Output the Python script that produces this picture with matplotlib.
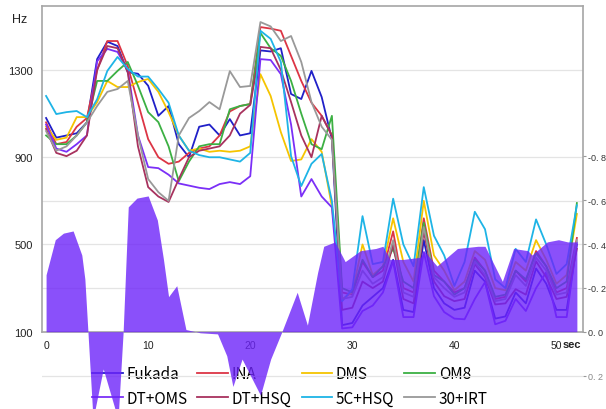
import matplotlib
matplotlib.use('Agg')
import matplotlib.pyplot as plt

# Datos
seconds = list(range(53))
series_names = ['Fukada', 'INA', 'DMS', 'OM8', 'DT+OMS', 'DT+HSQ', '5C+HSQ', '30+IRT']
series_colors = ['#2020c8', '#dc3545', '#f5c400', '#3cb043', '#7b2ff7', '#a8325e', '#1eb4e6', '#999999']

fukada = [1080, 990, 1000, 1010, 1060, 1350, 1430, 1410, 1290, 1283,
          1228, 1090, 1135, 960, 900, 1040, 1050, 1000, 1075, 1000,
          1010, 1390, 1385, 1400, 1190, 1167, 1296, 1176, 983, 130,
          140, 220, 260, 300, 430, 200, 190, 520, 300, 230,
          200, 210, 380, 330, 160, 170, 280, 230, 390, 320,
          200, 200, 500]
ina = [1060, 960, 970, 1040, 1080, 1300, 1433, 1433, 1318, 1150,
       983, 900, 870, 880, 920, 940, 950, 1000, 1110, 1135,
       1144, 1497, 1490, 1480, 1365, 1250, 1150, 1090, 1000, 280,
       270, 420, 350, 380, 560, 300, 280, 620, 380, 330,
       280, 300, 440, 380, 250, 260, 380, 330, 470, 400,
       280, 300, 530]
dms = [1040, 980, 990, 1084, 1084, 1153, 1250, 1222, 1222, 1245,
       1259, 1200, 1107, 1000, 930, 940, 925, 930, 925, 930,
       950, 1281, 1181, 1015, 883, 890, 983, 925, 675, 250,
       280, 500, 360, 400, 620, 420, 330, 700, 450, 380,
       290, 330, 470, 430, 300, 290, 420, 380, 520, 430,
       320, 360, 640]
om8 = [1000, 960, 960, 1000, 1060, 1250, 1250, 1296, 1337, 1228,
       1107, 1061, 950, 790, 880, 950, 960, 960, 1120, 1135,
       1144, 1470, 1400, 1365, 1250, 1100, 960, 937, 1090, 300,
       280, 430, 350, 400, 480, 330, 300, 600, 360, 330,
       270, 300, 430, 380, 260, 270, 380, 340, 460, 400,
       300, 330, 690]
dt_oms = [1050, 940, 925, 960, 1000, 1340, 1397, 1383, 1300, 1000,
          855, 850, 820, 780, 770, 760, 754, 777, 786, 777,
          813, 1350, 1346, 1281, 1050, 720, 800, 720, 670, 115,
          120, 195, 220, 280, 423, 167, 167, 465, 263, 190,
          160, 157, 250, 327, 134, 150, 250, 195, 300, 373,
          167, 167, 510]
dt_hsq = [1030, 920, 905, 930, 1000, 1300, 1410, 1400, 1290, 950,
          763, 720, 695, 800, 900, 930, 940, 950, 1000, 1100,
          1140, 1406, 1400, 1300, 1153, 1000, 900, 1090, 1000, 200,
          210, 330, 300, 330, 500, 250, 230, 560, 330, 263,
          240, 250, 410, 350, 225, 230, 295, 270, 423, 350,
          250, 260, 480]
c5_hsq = [1181, 1098, 1107, 1112, 1084, 1166, 1296, 1360, 1305, 1270,
          1270, 1213, 1150, 1000, 930, 910, 900, 900, 890, 880,
          920, 1480, 1443, 1337, 905, 768, 870, 915, 700, 240,
          295, 630, 410, 420, 710, 500, 400, 763, 540, 450,
          310, 420, 650, 570, 340, 300, 480, 420, 615, 500,
          365, 410, 680]
irt_30 = [1020, 930, 950, 1000, 1060, 1135, 1200, 1213, 1250, 1000,
          800, 740, 700, 1000, 1080, 1112, 1153, 1120, 1295, 1222,
          1227, 1520, 1500, 1433, 1456, 1337, 1153, 1040, 980, 250,
          260, 380, 320, 350, 520, 280, 260, 580, 350, 300,
          260, 280, 420, 360, 240, 250, 360, 310, 440, 380,
          270, 280, 520]

# Area violeta (eje derecho, invertido)
fill_sec = [0, 0.9, 1.7, 2.65, 3.5, 3.8, 4.1, 4.6, 5.6, 7.05,
            7.55, 8.05, 8.9, 10.0, 10.9, 11.5, 12.0, 12.8, 13.7, 15.1,
            16.8, 17.7, 18.3, 19.2, 21.0, 22.0, 23.1, 24.6, 25.6, 26.6,
            27.2, 28.3, 29.3, 30.8, 32.3, 33.0, 33.7, 35.0, 36.7, 37.0,
            38.3, 40.3, 42.3, 43.0, 44.7, 45.8, 47.2, 47.6, 49.1, 50.2,
            51.1, 52.0]
fill_val = [-0.26, -0.42, -0.45, -0.46, -0.35, -0.24, 0.0, 0.40, 0.17, 0.40,
            0.0, -0.57, -0.61, -0.62, -0.51, -0.33, -0.16, -0.21, -0.01, 0.005,
            0.01, 0.11, 0.25, 0.125, 0.29, 0.125, 0.0, -0.18, -0.03, -0.27,
            -0.39, -0.41, -0.32, -0.37, -0.38, -0.39, -0.33, -0.33, -0.34, -0.37,
            -0.30, -0.38, -0.39, -0.39, -0.23, -0.38, -0.37, -0.35, -0.41, -0.42,
            -0.41, -0.41]

hz_ticks = [100, 500, 900, 1300]
hz_minor = [300, 700]
sec_ticks = [0, 10, 20, 30, 40, 50]
right_ticks = [-0.8, -0.6, -0.4, -0.2, 0.0, 0.2]
right_labels = ['-0. 8', '-0. 6', '-0. 4', '-0. 2', '0. 0', '0. 2']

all_series = [fukada, ina, dms, om8, dt_oms, dt_hsq, c5_hsq, irt_30]

W, H = 606, 410
fig = plt.figure(figsize=(W / 100, H / 100), dpi=100)
plt.rcParams['font.family'] = ['Liberation Sans', 'DejaVu Sans']

left = 42 / W
width = 583 / W - left
top = 1 - 6.7 / H
bottom = 1 - 332.7 / H

ax = fig.add_axes([left, bottom, width, top - bottom])
ax.set_xlim(-0.4, 52.6)
ax.set_ylim(100, 1595)

lines = []
for name, color, vals in zip(series_names, series_colors, all_series):
    ln, = ax.plot(seconds, vals, color=color, lw=1.3, label=name)
    lines.append(ln)

ax.set_yticks(hz_ticks)
ax.set_yticks(hz_minor, minor=True)
ax.set_xticks(sec_ticks)
ax.tick_params(axis='y', which='both', length=0, pad=6.5, labelsize=8, labelcolor='#222222')
ax.tick_params(axis='x', length=0, pad=6, labelsize=7.5, labelcolor='#222222')
ax.grid(True, axis='y', which='both', color='#e4e4e4', lw=0.9)
ax.set_axisbelow(True)
for sp in ax.spines.values():
    sp.set_color('#a6a6a6')
    sp.set_linewidth(1.2)

# Leyenda (ordenada por columnas)
order = [0, 4, 1, 5, 2, 6, 3, 7]
ax.legend([lines[i] for i in order], [series_names[i] for i in order],
          ncol=4, loc='upper left', bbox_to_anchor=(92 / W, 1 - 366 / H),
          bbox_transform=fig.transFigure, frameon=False,
          prop={'family': ['Noto Sans CJK JP', 'DejaVu Sans'], 'size': 11},
          handlelength=2.0, handletextpad=0.25, columnspacing=0.65,
          labelspacing=0.5, borderpad=0, borderaxespad=0)

# Eje del area violeta, encima de todo
fax = fig.add_axes([left, 0, width, top], zorder=2)
fax.patch.set_visible(False)
fax.set_xlim(-0.4, 52.6)
fax.set_ylim((H - 332.7) / 219, -326 / 219)
fax.fill_between(fill_sec, 0, fill_val, color='#6d24f9', alpha=0.8, linewidth=0)
fax.axhline(0.2, color='#e4e4e4', lw=0.9, zorder=0)
for sp in fax.spines.values():
    sp.set_visible(False)
fax.set_xticks([])
fax.yaxis.tick_right()
fax.set_yticks(right_ticks)
fax.set_yticklabels(right_labels)
fax.tick_params(axis='y', length=2.5, width=0.8, color='#999999', pad=0.8,
                labelsize=6.5, labelcolor='#333333')
fax.get_yticklabels()[-1].set_color('#888888')

fig.text(12 / W, 1 - 20 / H, 'Hz', fontsize=9, va='center', color='#222222')
fig.text(563 / W, 1 - 345 / H, 'sec', fontsize=8, va='center', weight='bold', color='#222222')

fig.savefig('out.png', dpi=100)
